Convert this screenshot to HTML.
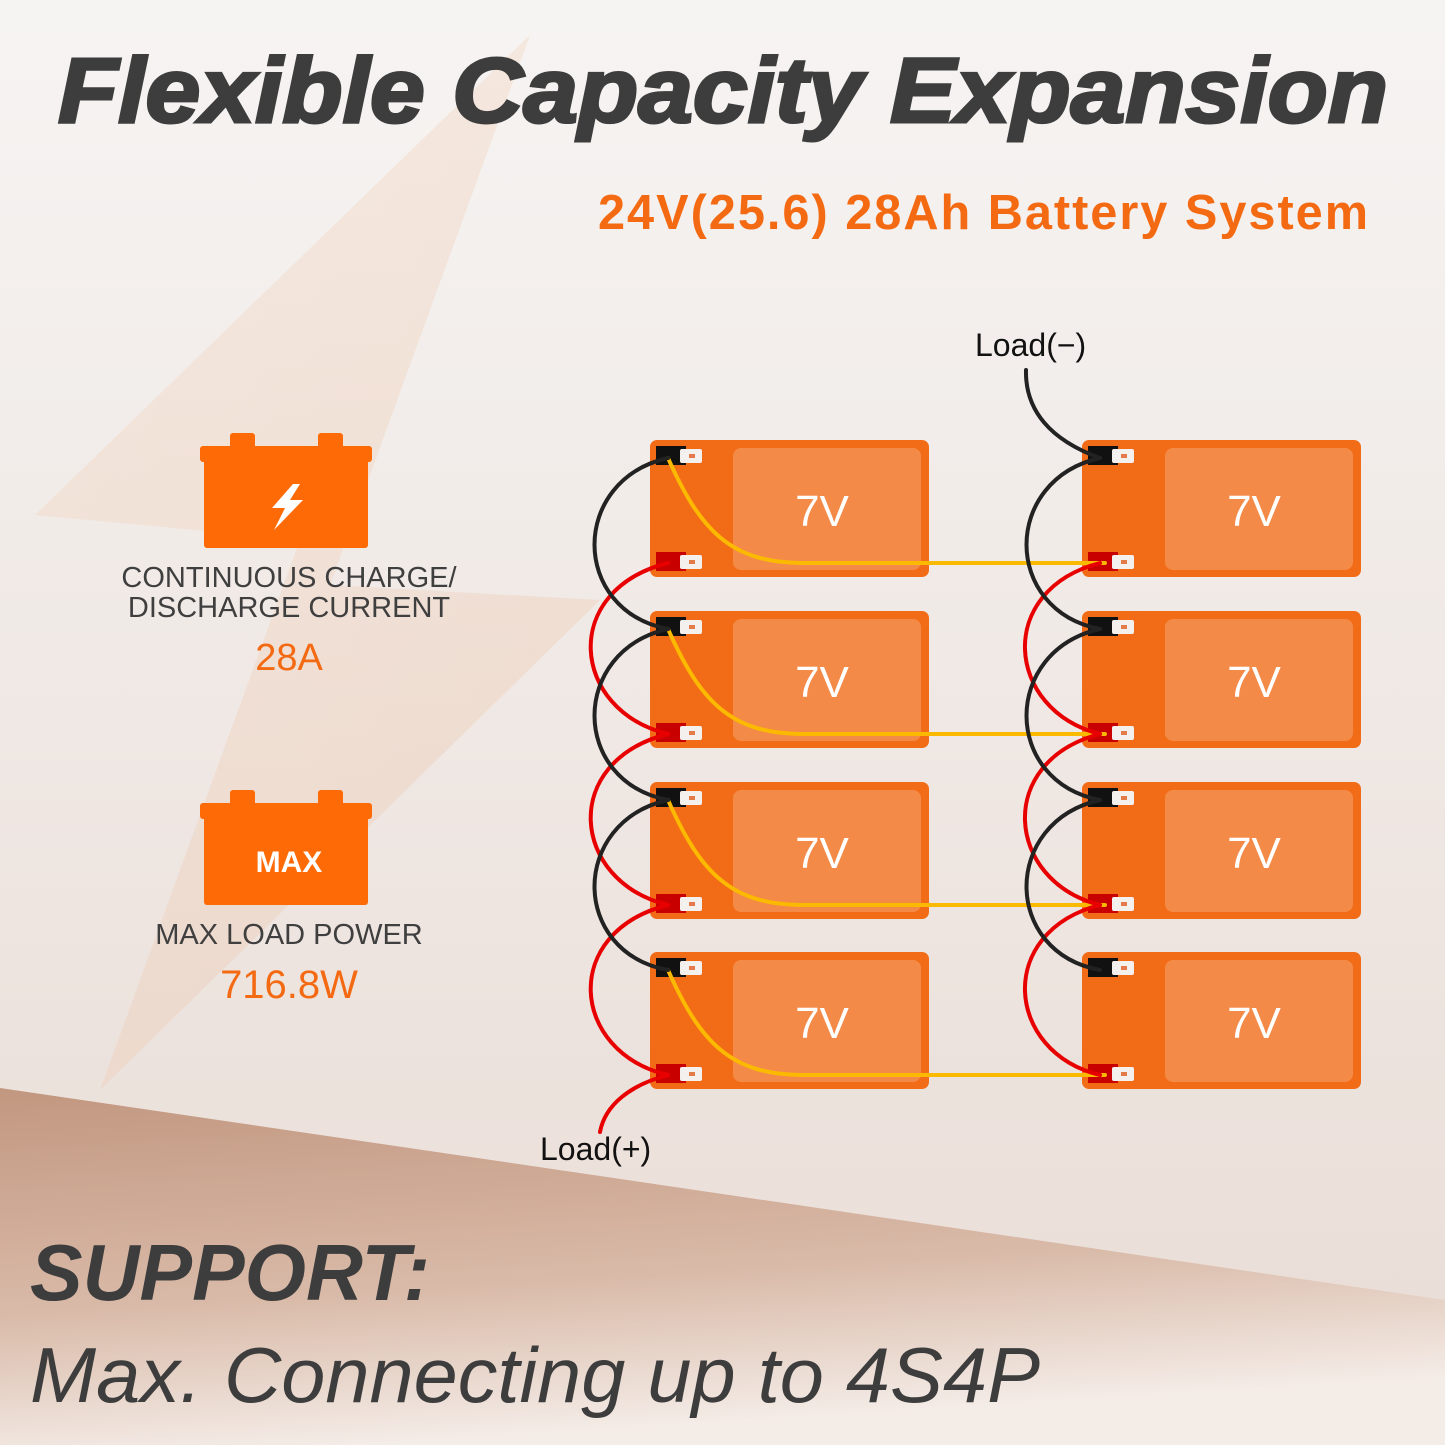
<!DOCTYPE html>
<html><head><meta charset="utf-8"><style>
html,body{margin:0;padding:0;width:1445px;height:1445px;overflow:hidden;background:#f2eeec}
svg{display:block}
text{font-family:"Liberation Sans",Arial,sans-serif}
</style></head><body>
<svg width="1445" height="1445" viewBox="0 0 1445 1445" xmlns="http://www.w3.org/2000/svg">
<defs>
<linearGradient id="bg" x1="0" y1="0" x2="0" y2="1">
<stop offset="0" stop-color="#f6f4f3"/><stop offset="1" stop-color="#e9dcd5"/>
</linearGradient>
<linearGradient id="band" x1="0" y1="0" x2="0.25" y2="1">
<stop offset="0" stop-color="#c29780"/><stop offset="0.6" stop-color="#d9baa8"/><stop offset="1" stop-color="#f4ece7"/>
</linearGradient>
<linearGradient id="bolt" x1="0" y1="0" x2="1" y2="1">
<stop offset="0" stop-color="#f3c9a8" stop-opacity="0.22"/><stop offset="1" stop-color="#eab898" stop-opacity="0.28"/>
</linearGradient>
</defs>
<rect width="1445" height="1445" fill="url(#bg)"/>
<polygon points="530,35 35,515 300,540 100,1090 600,600 330,585" fill="url(#bolt)"/>
<polygon points="0,1088 1445,1300 1445,1445 0,1445" fill="url(#band)"/>

<text x="58" y="122" font-size="92" font-weight="bold" font-style="italic" fill="#3d3d3d" textLength="1330" lengthAdjust="spacingAndGlyphs" stroke="#3d3d3d" stroke-width="3">Flexible Capacity Expansion</text>
<text x="598" y="229" font-size="49" font-weight="bold" fill="#f46a12" textLength="772" lengthAdjust="spacingAndGlyphs" letter-spacing="2">24V(25.6) 28Ah Battery System</text>

<g fill="#fd6a06">
<rect x="230" y="433" width="25" height="18" rx="3"/><rect x="318" y="433" width="25" height="18" rx="3"/>
<rect x="200" y="446" width="172" height="16" rx="3"/><rect x="204" y="458" width="164" height="90" rx="3"/>
<rect x="230" y="790" width="25" height="18" rx="3"/><rect x="318" y="790" width="25" height="18" rx="3"/>
<rect x="200" y="803" width="172" height="16" rx="3"/><rect x="204" y="815" width="164" height="90" rx="3"/>
</g>
<polygon points="293,484 272,508 285,508 274,530 303,500 290,500 300,484" fill="#fff"/>
<text x="289" y="872" font-size="30" font-weight="bold" fill="#fff" text-anchor="middle">MAX</text>
<text x="289" y="587" font-size="29" fill="#3f3f3f" text-anchor="middle">CONTINUOUS CHARGE/</text>
<text x="289" y="617" font-size="29" fill="#3f3f3f" text-anchor="middle">DISCHARGE CURRENT</text>
<text x="289" y="670" font-size="38" fill="#f46a12" text-anchor="middle">28A</text>
<text x="289" y="944" font-size="29" fill="#3f3f3f" text-anchor="middle">MAX LOAD POWER</text>
<text x="289" y="998" font-size="40" fill="#f46a12" text-anchor="middle">716.8W</text>

<g id="bat">
<rect x="650" y="440" width="279" height="137" rx="7" fill="#f26c17"/>
<rect x="733" y="448" width="188" height="122" rx="8" fill="#f48a47"/>
<text x="822" y="526" font-size="44" fill="#fff" text-anchor="middle">7V</text>
<rect x="656" y="446" width="30" height="19" fill="#111"/>
<rect x="680" y="449" width="22" height="14" rx="2" fill="#f3f0ee"/><rect x="689" y="454" width="6" height="4" fill="#e27a4a"/>
<rect x="656" y="552" width="30" height="19" fill="#c80000"/>
<rect x="680" y="555" width="22" height="14" rx="2" fill="#f3f0ee"/><rect x="689" y="560" width="6" height="4" fill="#e27a4a"/>
</g>
<use href="#bat" y="171"/><use href="#bat" y="342"/><use href="#bat" y="512"/>
<use href="#bat" x="432"/><use href="#bat" x="432" y="171"/><use href="#bat" x="432" y="342"/><use href="#bat" x="432" y="512"/>

<g fill="none" stroke-width="4" stroke-linecap="round">
<g stroke="#fbb900">
<path d="M668,458 C700,530 730,562 800,563 L1105,563"/>
<path d="M668,629 C700,701 730,733 800,734 L1105,734"/>
<path d="M668,800 C700,872 730,904 800,905 L1105,905"/>
<path d="M668,970 C700,1042 730,1074 800,1075 L1105,1075"/>
</g>
<g stroke="#e80000">
<path d="M668,563 C560,590 570,710 668,734"/>
<path d="M668,734 C560,761 570,881 668,905"/>
<path d="M668,905 C560,932 570,1052 668,1075"/>
<path d="M668,1075 C630,1085 605,1105 600,1132"/>
</g>
<g stroke="#222">
<path d="M668,458 C570,480 570,610 668,629"/>
<path d="M668,629 C570,651 570,781 668,800"/>
<path d="M668,800 C570,822 570,952 668,970"/>
</g>
<g stroke="#e80000">
<path d="M1100,563 C995,590 1005,710 1100,734"/>
<path d="M1100,734 C995,761 1005,881 1100,905"/>
<path d="M1100,905 C995,932 1005,1052 1100,1075"/>
</g>
<g stroke="#222">
<path d="M1100,458 C1002,480 1002,610 1100,629"/>
<path d="M1100,629 C1002,651 1002,781 1100,800"/>
<path d="M1100,800 C1002,822 1002,952 1100,970"/>
<path d="M1100,458 C1050,440 1025,410 1026,370"/>
</g>
</g>
<text x="975" y="356" font-size="32" fill="#111">Load(−)</text>
<text x="540" y="1160" font-size="32" fill="#111">Load(+)</text>

<text x="30" y="1300" font-size="80" font-weight="bold" font-style="italic" fill="#3d3d3d" textLength="400" lengthAdjust="spacingAndGlyphs">SUPPORT:</text>
<text x="30" y="1402" font-size="78" font-style="italic" fill="#3d3d3d" textLength="1010" lengthAdjust="spacingAndGlyphs">Max. Connecting up to 4S4P</text>
</svg>
</body></html>
